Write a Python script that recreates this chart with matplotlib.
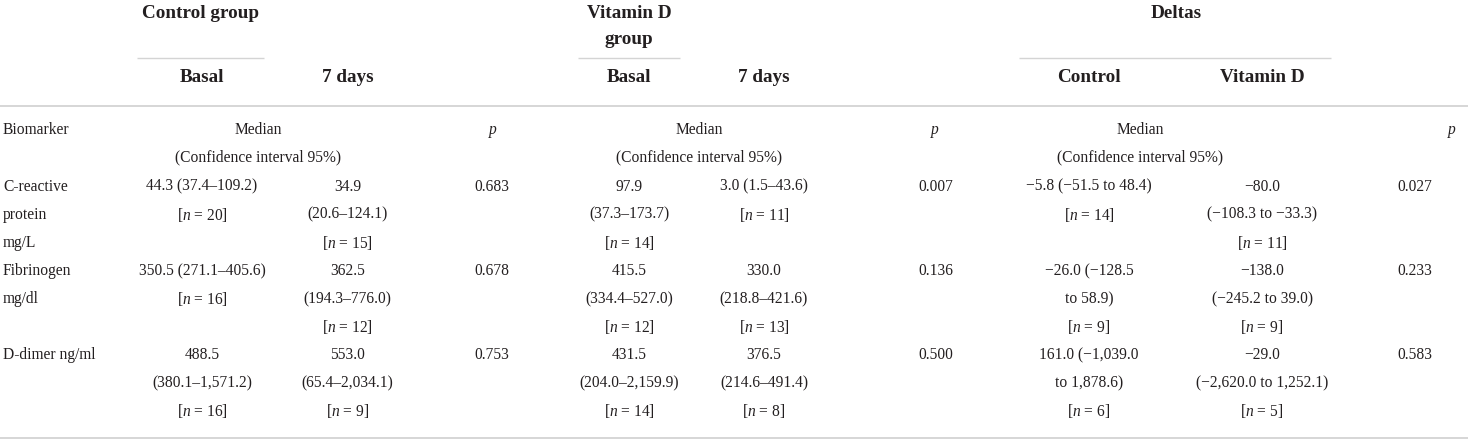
import matplotlib
matplotlib.use("Agg")
import matplotlib.pyplot as plt

plt.rcParams['font.family'] = ['Liberation Serif', 'DejaVu Serif']
plt.rcParams['mathtext.fontset'] = 'custom'
plt.rcParams['mathtext.rm'] = 'Liberation Serif'
plt.rcParams['mathtext.it'] = 'Liberation Serif:italic'

# ---------------- data ----------------
group_headers = ["Control group", "Vitamin D\ngroup", "Deltas"]
sub_headers = [["Basal", "7 days"], ["Basal", "7 days"], ["Control", "Vitamin D"]]
stat_label = ["Median", "(Confidence interval 95%)"]
p_label = "p"
first_col_label = "Biomarker"
biomarkers = [["C-reactive", "protein", "mg/L"], ["Fibrinogen", "mg/dl"], ["D-dimer ng/ml"]]
control_basal = [["44.3 (37.4–109.2)", "[n = 20]"],
                 ["350.5 (271.1–405.6)", "[n = 16]"],
                 ["488.5", "(380.1–1,571.2)", "[n = 16]"]]
control_7d = [["34.9", "(20.6–124.1)", "[n = 15]"],
              ["362.5", "(194.3–776.0)", "[n = 12]"],
              ["553.0", "(65.4–2,034.1)", "[n = 9]"]]
control_p = ["0.683", "0.678", "0.753"]
vitd_basal = [["97.9", "(37.3–173.7)", "[n = 14]"],
              ["415.5", "(334.4–527.0)", "[n = 12]"],
              ["431.5", "(204.0–2,159.9)", "[n = 14]"]]
vitd_7d = [["3.0 (1.5–43.6)", "[n = 11]"],
           ["330.0", "(218.8–421.6)", "[n = 13]"],
           ["376.5", "(214.6–491.4)", "[n = 8]"]]
vitd_p = ["0.007", "0.136", "0.500"]
delta_control = [["−5.8 (−51.5 to 48.4)", "[n = 14]"],
                 ["−26.0 (−128.5", "to 58.9)", "[n = 9]"],
                 ["161.0 (−1,039.0", "to 1,878.6)", "[n = 6]"]]
delta_vitd = [["−80.0", "(−108.3 to −33.3)", "[n = 11]"],
              ["−138.0", "(−245.2 to 39.0)", "[n = 9]"],
              ["−29.0", "(−2,620.0 to 1,252.1)", "[n = 5]"]]
delta_p = ["0.027", "0.233", "0.583"]

# ---------------- layout ----------------
W, H = 1468, 441
fig = plt.figure(figsize=(W / 100, H / 100), dpi=100)
ax = fig.add_axes([0, 0, 1, 1])
ax.set_xlim(0, W)
ax.set_ylim(H, 0)
ax.axis('off')

BODY = 11.2
HEAD = 13.8
TXT = '#231f20'

group_x = [201, 629, 1176]
group_line = [(137, 264), (578, 680), (1019, 1331)]
sub_x = [[202, 347.5], [629, 764], [1089, 1262]]
median_x = [258, 699, 1140]
p_head_x = [493, 935, 1452]
p_val_x = [492, 935.5, 1414.5]

# group headers
for gx, g in zip(group_x, group_headers):
    lines = g.split("\n")
    for k, t in enumerate(lines):
        ax.text(gx, 13 + k * 27, t, ha='center', va='center', fontsize=HEAD,
                fontweight='bold', color=TXT)
for (x0, x1) in group_line:
    ax.plot([x0, x1], [57.5, 57.5], color='#d4d4d4', lw=1.0, solid_capstyle='butt')
for xs, subs in zip(sub_x, sub_headers):
    for x, s in zip(xs, subs):
        ax.text(x, 77, s, ha='center', va='center', fontsize=HEAD,
                fontweight='bold', color=TXT)

ax.plot([0, W], [106, 106], color='#cfcfcf', lw=1.2, solid_capstyle='butt')
ax.plot([0, W], [438, 438], color='#cfcfcf', lw=1.2, solid_capstyle='butt')

# statistic header row
ax.text(3, 130, first_col_label, ha='left', va='center', fontsize=BODY, color=TXT)
for mx in median_x:
    ax.text(mx, 130, stat_label[0], ha='center', va='center', fontsize=BODY, color=TXT)
    ax.text(mx, 157, stat_label[1], ha='center', va='center', fontsize=BODY, color=TXT)
for px in p_head_x:
    ax.text(px, 130, p_label, ha='center', va='center', fontsize=BODY,
            style='italic', color=TXT)

# body
row_y0 = 186.7
row_dy = 28.1


def fmt(s):
    return s.replace("[n =", "[$n$ =")


cell_cols = [(sub_x[0][0], control_basal), (sub_x[0][1], control_7d),
             (sub_x[1][0], vitd_basal), (sub_x[1][1], vitd_7d),
             (sub_x[2][0], delta_control), (sub_x[2][1], delta_vitd)]
p_cols = [(p_val_x[0], control_p), (p_val_x[1], vitd_p), (p_val_x[2], delta_p)]

for i, bm in enumerate(biomarkers):
    start = 3 * i
    for k, t in enumerate(bm):
        ax.text(3, row_y0 + (start + k) * row_dy, t, ha='left', va='center',
                fontsize=BODY, color=TXT)
    for x, col in cell_cols:
        for k, t in enumerate(col[i]):
            ax.text(x, row_y0 + (start + k) * row_dy, fmt(t), ha='center',
                    va='center', fontsize=BODY, color=TXT)
    for x, col in p_cols:
        ax.text(x, row_y0 + start * row_dy, col[i], ha='center', va='center',
                fontsize=BODY, color=TXT)

fig.savefig("out.png", dpi=100)
